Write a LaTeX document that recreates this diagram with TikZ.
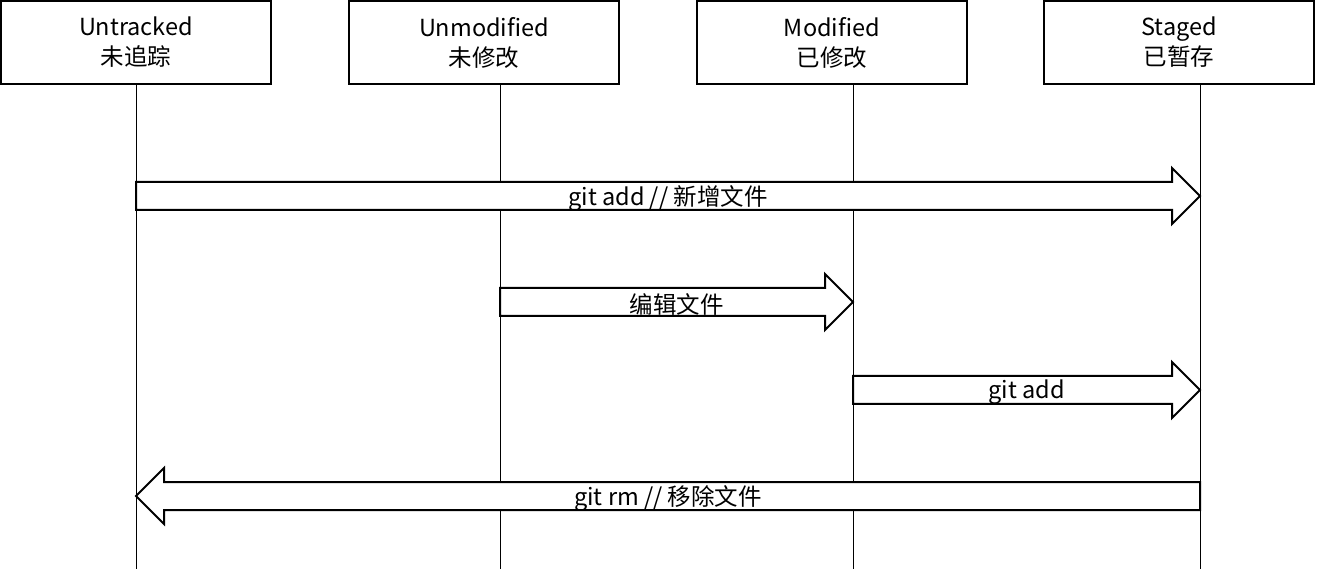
\documentclass[tikz,border=0pt]{standalone}
\usepackage{fontspec}
\setmainfont{Noto Sans CJK SC}
\usetikzlibrary{positioning,calc}

\newcommand{\statefont}{\fontsize{23.5}{30}\selectfont}

% block arrow between two points on the lifelines
\newcommand{\blockmsg}[3]{%
  \path ($(#2)!28pt!(#1)$) coordinate (msgbase);
  \draw[blockarrow] ($(#1)+(0,-14)$) -- ($(msgbase)+(0,-14)$) -- ($(msgbase)+(0,-28)$)
    -- (#2) -- ($(msgbase)+(0,28)$) -- ($(msgbase)+(0,14)$) -- ($(#1)+(0,14)$) -- cycle;
  \node[msglabel] at ($(#1)!0.5!(#2)+(0,2.5)$) {#3};
}

\tikzset{
  state/.style={draw, line width=2pt, outer sep=0pt, minimum width=270pt,
    minimum height=83pt, align=center, font=\statefont},
  lifeline/.style={line width=1pt},
  blockarrow/.style={draw, line width=2pt, fill=white, line join=miter},
  msglabel/.style={font=\statefont, inner sep=0pt}
}

\begin{document}
\begin{tikzpicture}[x=1pt, y=-1pt]
    \useasboundingbox (0,0) rectangle (1318,569);

    % states
    \node[state] (untracked) at (136,42.5) {Untracked\\未追踪};
    \node[state, right=78pt of untracked] (unmodified) {Unmodified\\未修改};
    \node[state, right=78pt of unmodified] (modified) {Modified\\已修改};
    \node[state, right=77pt of modified] (staged) {Staged\\已暂存};

    % lifelines
    \coordinate (untracked-end) at (136,569);
    \coordinate (unmodified-end) at (500,569);
    \coordinate (modified-end) at (853,569);
    \coordinate (staged-end) at (1200,569);
    \draw[lifeline] (untracked.south -| untracked-end) -- (untracked-end);
    \draw[lifeline] (unmodified.south -| unmodified-end) -- (unmodified-end);
    \draw[lifeline] (modified.south -| modified-end) -- (modified-end);
    \draw[lifeline] (staged.south -| staged-end) -- (staged-end);

    % messages
    \coordinate (addnew-from) at (136,196);
    \coordinate (addnew-to) at (1200,196);
    \coordinate (edit-from) at (500,302);
    \coordinate (edit-to) at (853,302);
    \coordinate (add-from) at (853,390);
    \coordinate (add-to) at (1200,390);
    \coordinate (rm-from) at (1200,496);
    \coordinate (rm-to) at (136,496);

    \blockmsg{addnew-from}{addnew-to}{git add // 新增文件}
    \blockmsg{edit-from}{edit-to}{编辑文件}
    \blockmsg{add-from}{add-to}{git add}
    \blockmsg{rm-from}{rm-to}{git rm // 移除文件}
\end{tikzpicture}
\end{document}
